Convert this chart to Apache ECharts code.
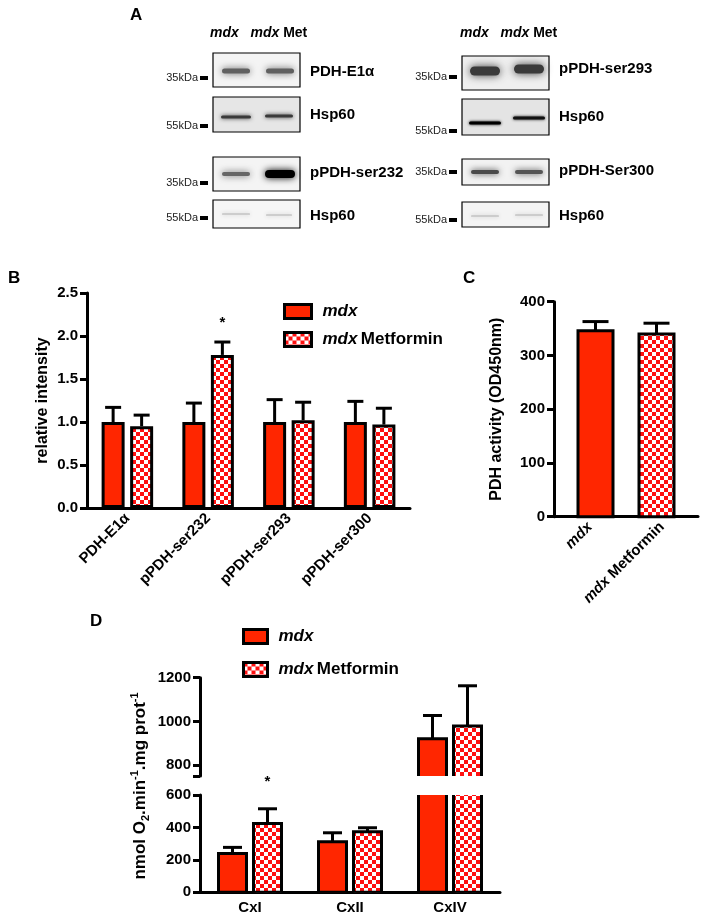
<!DOCTYPE html>
<html>
<head>
<meta charset="utf-8">
<script src="https://cdn.jsdelivr.net/npm/echarts@6/dist/echarts.min.js"></script>
<style>
  html, body { margin: 0; padding: 0; background: #fff; }
  #main { width: 702px; height: 918px; }
</style>
</head>
<body>
<div id="main"></div>
<script>
// ---- panel B : relative band intensity ----
var bCategories = ['PDH-E1α', 'pPDH-ser232', 'pPDH-ser293', 'pPDH-ser300'];
var bMdx = [1.0, 1.0, 1.0, 1.0];
var bMdxErr = [0.17, 0.22, 0.26, 0.24];
var bMet = [0.95, 1.78, 1.02, 0.97];
var bMetErr = [0.13, 0.15, 0.21, 0.19];
var bStars = ['', '*', '', ''];
var bYTicks = [0, 0.5, 1.0, 1.5, 2.0, 2.5];

// ---- panel C : PDH activity ----
var cCategories = ['mdx', 'mdx Metformin'];
var cValues = [346, 340];
var cErr = [17, 20];
var cYTicks = [0, 100, 200, 300, 400];

// ---- panel D : respiration, broken axis ----
var dCategories = ['CxI', 'CxII', 'CxIV'];
var dMdx = [240, 312, 920];
var dMdxErr = [37, 55, 107];
var dMet = [425, 374, 979];
var dMetErr = [90, 24, 184];
var dStars = ['*', '', ''];
var dLowTicks = [0, 200, 400, 600];
var dHighTicks = [800, 1000, 1200];
var dBreak = [600, 750];
var dHighMax = 1200;

var seriesNames = ['mdx', 'mdx Metformin'];

var FONT = '"Liberation Sans", Arial, sans-serif';
var RED = '#ff2600';
var CHECK_RED = '#ff1010';

// checkerboard fill for the metformin bars
function makeChecker() {
  var c = document.createElement('canvas');
  c.width = 8; c.height = 8;
  var g = c.getContext('2d');
  g.fillStyle = '#fff'; g.fillRect(0, 0, 8, 8);
  g.fillStyle = CHECK_RED; g.fillRect(0, 0, 4, 4); g.fillRect(4, 4, 4, 4);
  return c;
}
var CHECKER = { image: makeChecker(), repeat: 'repeat' };

var chart = echarts.init(document.getElementById('main'));

var axisLine = { show: true, lineStyle: { color: '#000', width: 3 } };
var yTick = { show: true, inside: false, length: 7, lineStyle: { color: '#000', width: 3 } };
var lbl = { color: '#000', fontFamily: FONT, fontWeight: 'bold', fontSize: 15 };

function valueAxis(grid, ticks, fmt, extra) {
  var ax = {
    type: 'value', gridIndex: grid,
    min: ticks[0], max: ticks[ticks.length - 1], interval: ticks[1] - ticks[0],
    axisLine: axisLine, axisTick: yTick, splitLine: { show: false },
    axisLabel: Object.assign({ margin: 9, formatter: fmt }, lbl)
  };
  return Object.assign(ax, extra || {});
}

// error bars: data item = [category, value, err, side]
function makeErr(halfGap, capW, stars, starGap) {
  return function (params, api) {
    var i = api.value(0), v = api.value(1), e = api.value(2), side = api.value(3);
    var p0 = api.coord([i, v]);
    var p1 = api.coord([i, v + e]);
    var x = p0[0] + side * halfGap;
    var ch = [
      { type: 'line', shape: { x1: x, y1: p0[1], x2: x, y2: p1[1] }, style: { stroke: '#000', lineWidth: 3 } },
      { type: 'line', shape: { x1: x - capW / 2, y1: p1[1], x2: x + capW / 2, y2: p1[1] }, style: { stroke: '#000', lineWidth: 3 } }
    ];
    if (side > 0 && stars && stars[i]) {
      ch.push({ type: 'text', style: { text: stars[i], x: x, y: p1[1] - starGap, textAlign: 'center', textVerticalAlign: 'middle', fontFamily: FONT, fontSize: 15, fontWeight: 'bold', fill: '#000' } });
    }
    return { type: 'group', children: ch };
  };
}

function errData(vals, errs, side, keep) {
  var out = [];
  vals.forEach(function (v, i) {
    if (!keep || keep(v)) out.push([i, v, errs[i], side]);
  });
  return out;
}

// bars drawn from zero and clipped by the grid, so a broken axis leaves open ends
function makeBar(halfGap, w, fill) {
  return function (params, api) {
    var i = api.value(0), v = api.value(1), side = api.value(2);
    var top = api.coord([i, v]);
    var base = api.coord([i, 0]);
    var x = top[0] + side * halfGap;
    return { type: 'rect', shape: { x: x - w / 2, y: top[1], width: w, height: base[1] - top[1] },
      style: { fill: fill, stroke: '#000', lineWidth: 3 } };
  };
}
function barData(vals, side, keep) {
  var out = [];
  vals.forEach(function (v, i) { if (!keep || keep(v)) out.push([i, v, side]); });
  return out;
}

// panel C bars (single group of two bars, pulled in toward the middle)
function cBars(params, api) {
  var i = api.value(0), v = api.value(1), e = api.value(2);
  var top = api.coord([i, v]);
  var base = api.coord([i, 0]);
  var et = api.coord([i, v + e]);
  var x = top[0] + (i === 0 ? 5.5 : -5.5);
  var w = 35;
  return {
    type: 'group', children: [
      { type: 'line', shape: { x1: x, y1: top[1], x2: x, y2: et[1] }, style: { stroke: '#000', lineWidth: 3 } },
      { type: 'line', shape: { x1: x - 13, y1: et[1], x2: x + 13, y2: et[1] }, style: { stroke: '#000', lineWidth: 3 } },
      { type: 'rect', shape: { x: x - w / 2, y: top[1], width: w, height: base[1] - top[1] },
        style: { fill: i === 0 ? RED : CHECKER, stroke: '#000', lineWidth: 3 } }
    ]
  };
}

// ---- panel A : western blots (picture elements) ----
var graphics = [];
function txt(x, y, text, size, opts) {
  graphics.push({
    type: 'text', x: x, y: y, silent: true,
    style: Object.assign({ text: text, fontFamily: FONT, fontSize: size, fontWeight: 'bold', fill: '#000', textVerticalAlign: 'middle' }, opts || {})
  });
}
var headRich = {
  i: { fontFamily: FONT, fontSize: 14, fontWeight: 'bold', fontStyle: 'italic', fill: '#000' },
  b: { fontFamily: FONT, fontSize: 14, fontWeight: 'bold', fill: '#000' }
};
txt(130, 15, 'A', 17);
txt(210, 33, '{i|mdx}   {i|mdx} {b|Met}', 14, { rich: headRich });
txt(460, 33, '{i|mdx}   {i|mdx} {b|Met}', 14, { rich: headRich });

// [x, y, w, h, background, label, labelY, marker text, markerY]
var blots = [
  [213, 53, 87, 34, '#f4f4f4', 'PDH-E1α', 72, '35kDa', 78],
  [213, 97, 87, 35, '#e6e6e6', 'Hsp60', 115, '55kDa', 126],
  [213, 157, 87, 34, '#f4f4f4', 'pPDH-ser232', 173, '35kDa', 183],
  [213, 200, 87, 28, '#f6f6f6', 'Hsp60', 216, '55kDa', 218],
  [462, 56, 87, 34, '#efefef', 'pPDH-ser293', 69, '35kDa', 77],
  [462, 99, 87, 36, '#e4e4e4', 'Hsp60', 117, '55kDa', 131],
  [462, 159, 87, 26, '#f2f2f2', 'pPDH-Ser300', 171, '35kDa', 172],
  [462, 202, 87, 25, '#f4f4f4', 'Hsp60', 216, '55kDa', 220]
];
// [cx, cy, w, h, colour, blur]
var bands = [
  [236, 71, 28, 5, '#606060', 7], [280, 71, 28, 5, '#606060', 7],
  [236, 117, 30, 3, '#3a3a3a', 4], [279, 116, 28, 3, '#3a3a3a', 4],
  [236, 174, 28, 4, '#666', 7], [280, 174, 30, 8, '#000', 7],
  [236, 214, 28, 1, '#b0b0b0', 4], [279, 215, 26, 1, '#b0b0b0', 4],
  [485, 71, 30, 9, '#3a3a3a', 8], [529, 69, 30, 9, '#3a3a3a', 8],
  [485, 123, 32, 3, '#000', 3], [529, 118, 32, 3, '#111', 3],
  [485, 172, 28, 4, '#4a4a4a', 6], [529, 172, 28, 4, '#555', 6],
  [485, 216, 28, 1, '#b0b0b0', 4], [529, 215, 28, 1, '#b0b0b0', 4]
];
blots.forEach(function (b) {
  graphics.push({ type: 'rect', shape: { x: b[0], y: b[1], width: b[2], height: b[3] }, style: { fill: b[4] }, silent: true, z: 1 });
});
bands.forEach(function (b) {
  graphics.push({ type: 'rect', shape: { x: b[0] - b[2] / 2, y: b[1] - b[3] / 2, width: b[2], height: b[3], r: b[3] / 2 },
    style: { fill: b[4], shadowBlur: b[5], shadowColor: b[4] }, silent: true, z: 2 });
});
blots.forEach(function (b) {
  graphics.push({ type: 'rect', shape: { x: b[0], y: b[1], width: b[2], height: b[3] }, style: { fill: 'none', stroke: '#000', lineWidth: 1.2 }, silent: true, z: 3 });
  txt(b[0] + b[2] + 10, b[6], b[5], 15);
  var mx = b[0] - 13;
  graphics.push({ type: 'rect', shape: { x: mx, y: b[8] - 2, width: 8, height: 4 }, style: { fill: '#000' }, silent: true });
  txt(mx - 2, b[8], b[7], 11, { fontWeight: 'normal', textAlign: 'right', fill: '#222' });
});

// panel letters
txt(8, 278, 'B', 17);
txt(463, 278, 'C', 17);
txt(90, 621, 'D', 17);

// panel D y-axis title with sub/superscripts
graphics.push({
  type: 'text', x: 140, y: 786, rotation: Math.PI / 2, silent: true,
  style: {
    text: '{a|nmol O}{s|2}{a|.min}{p|-1}{a|.mg prot}{p|-1}',
    textAlign: 'center', textVerticalAlign: 'middle',
    rich: {
      a: { fontFamily: FONT, fontSize: 17, fontWeight: 'bold', fill: '#000', lineHeight: 22, verticalAlign: 'middle' },
      s: { fontFamily: FONT, fontSize: 11, fontWeight: 'bold', fill: '#000', lineHeight: 22, verticalAlign: 'bottom' },
      p: { fontFamily: FONT, fontSize: 11, fontWeight: 'bold', fill: '#000', lineHeight: 22, verticalAlign: 'top' }
    }
  }
});

var legendRich = {
  i: { fontFamily: FONT, fontSize: 17, fontWeight: 'bold', fontStyle: 'italic', color: '#000' },
  n: { fontFamily: FONT, fontSize: 17, fontWeight: 'bold', color: '#000' }
};
function legendFmt(name) {
  return name === 'mdx' ? '{i|mdx}' : '{i|mdx} {n|Metformin}';
}
var catRich = {
  i: { fontFamily: FONT, fontSize: 15, fontWeight: 'bold', fontStyle: 'italic', color: '#000' },
  n: { fontFamily: FONT, fontSize: 15, fontWeight: 'bold', color: '#000' }
};

var barStyleMdx = { color: RED, borderColor: '#000', borderWidth: 3 };
var barStyleMet = { color: CHECKER, borderColor: '#000', borderWidth: 3 };

var aboveBreak = function (v) { return v > dBreak[1]; };
var belowBreak = function (v) { return v < dBreak[0]; };

var option = {
  backgroundColor: '#fff',
  animation: false,
  graphic: { elements: graphics },
  legend: [
    { data: seriesNames, orient: 'vertical', left: 283, top: 303, padding: 0, itemWidth: 27, itemHeight: 14, itemGap: 11,
      icon: 'rect', formatter: legendFmt, selectedMode: false,
      itemStyle: { borderColor: '#000', borderWidth: 3 },
      textStyle: { rich: legendRich, lineHeight: 14, padding: [0, 0, 0, 6] } },
    { data: seriesNames, orient: 'vertical', left: 242, top: 628, padding: 0, itemWidth: 24, itemHeight: 14, itemGap: 16,
      icon: 'rect', formatter: legendFmt, selectedMode: false,
      itemStyle: { borderColor: '#000', borderWidth: 3 },
      textStyle: { rich: legendRich, lineHeight: 14, padding: [0, 0, 0, 6] } }
  ],
  grid: [
    { left: 87, top: 293, width: 323, height: 215 },
    { left: 554, top: 301.7, width: 144, height: 215 },
    { left: 200, top: 795, width: 300, height: 97.3 },
    { left: 200, top: 677.7, width: 300, height: 98.3 }
  ],
  xAxis: [
    { type: 'category', gridIndex: 0, data: bCategories, axisLine: axisLine, axisTick: { show: false },
      axisLabel: Object.assign({ interval: 0, rotate: 45, margin: 8 }, lbl) },
    { type: 'category', gridIndex: 1, data: cCategories, axisLine: axisLine, axisTick: { show: false },
      axisLabel: Object.assign({ interval: 0, rotate: 45, margin: 8, rich: catRich,
        formatter: function (v) { return v === 'mdx' ? '{i|mdx}' : '{i|mdx} {n|Metformin}'; } }, lbl) },
    { type: 'category', gridIndex: 2, data: dCategories, axisLine: axisLine, axisTick: { show: false },
      axisLabel: Object.assign({ interval: 0, margin: 8 }, lbl) },
    { type: 'category', gridIndex: 3, data: dCategories, show: false }
  ],
  yAxis: [
    valueAxis(0, bYTicks, function (v) { return v.toFixed(1); }, {
      name: 'relative intensity', nameLocation: 'middle', nameGap: 36,
      nameTextStyle: { color: '#000', fontFamily: FONT, fontWeight: 'bold', fontSize: 16 } }),
    valueAxis(1, cYTicks, function (v) { return String(v); }, {
      name: 'PDH activity (OD450nm)', nameLocation: 'middle', nameGap: 49,
      nameTextStyle: { color: '#000', fontFamily: FONT, fontWeight: 'bold', fontSize: 16 } }),
    valueAxis(2, dLowTicks, function (v) { return String(v); }),
    {
      type: 'value', gridIndex: 3, min: dBreak[1], max: dHighMax,
      axisLine: axisLine, splitLine: { show: false },
      axisTick: Object.assign({ customValues: [dBreak[1]].concat(dHighTicks) }, yTick),
      axisLabel: Object.assign({ margin: 9, customValues: dHighTicks, formatter: function (v) { return String(v); } }, lbl)
    }
  ],
  series: [
    { name: seriesNames[0], type: 'bar', xAxisIndex: 0, yAxisIndex: 0, data: bMdx, barWidth: 23, barGap: '24%', itemStyle: barStyleMdx, z: 3 },
    { name: seriesNames[1], type: 'bar', xAxisIndex: 0, yAxisIndex: 0, data: bMet, barWidth: 23, barGap: '24%', itemStyle: barStyleMet, z: 3 },
    { type: 'custom', xAxisIndex: 0, yAxisIndex: 0, z: 2, renderItem: makeErr(14.25, 16, bStars, 19),
      data: errData(bMdx, bMdxErr, -1).concat(errData(bMet, bMetErr, 1)) },

    { type: 'custom', name: 'PDH activity', xAxisIndex: 1, yAxisIndex: 1, renderItem: cBars,
      data: cValues.map(function (v, i) { return [i, v, cErr[i]]; }) },

    // panel D lower part (0-600)
    { name: seriesNames[0], type: 'custom', xAxisIndex: 2, yAxisIndex: 2, z: 3, clip: true, itemStyle: barStyleMdx,
      renderItem: makeBar(17.5, 28, RED), data: barData(dMdx, -1) },
    { name: seriesNames[1], type: 'custom', xAxisIndex: 2, yAxisIndex: 2, z: 3, clip: true, itemStyle: barStyleMet,
      renderItem: makeBar(17.5, 28, CHECKER), data: barData(dMet, 1) },
    // panel D upper part (750-1200)
    { name: seriesNames[0], type: 'custom', xAxisIndex: 3, yAxisIndex: 3, z: 3, clip: true, itemStyle: barStyleMdx,
      renderItem: makeBar(17.5, 28, RED), data: barData(dMdx, -1, aboveBreak) },
    { name: seriesNames[1], type: 'custom', xAxisIndex: 3, yAxisIndex: 3, z: 3, clip: true, itemStyle: barStyleMet,
      renderItem: makeBar(17.5, 28, CHECKER), data: barData(dMet, 1, aboveBreak) },
    { type: 'custom', xAxisIndex: 2, yAxisIndex: 2, z: 2, renderItem: makeErr(17.5, 19, dStars, 27),
      data: errData(dMdx, dMdxErr, -1, belowBreak).concat(errData(dMet, dMetErr, 1, belowBreak)) },
    { type: 'custom', xAxisIndex: 3, yAxisIndex: 3, z: 2, renderItem: makeErr(17.5, 19, null, 0),
      data: errData(dMdx, dMdxErr, -1, aboveBreak).concat(errData(dMet, dMetErr, 1, aboveBreak)) }
  ]
};
chart.setOption(option);
</script>
</body>
</html>
